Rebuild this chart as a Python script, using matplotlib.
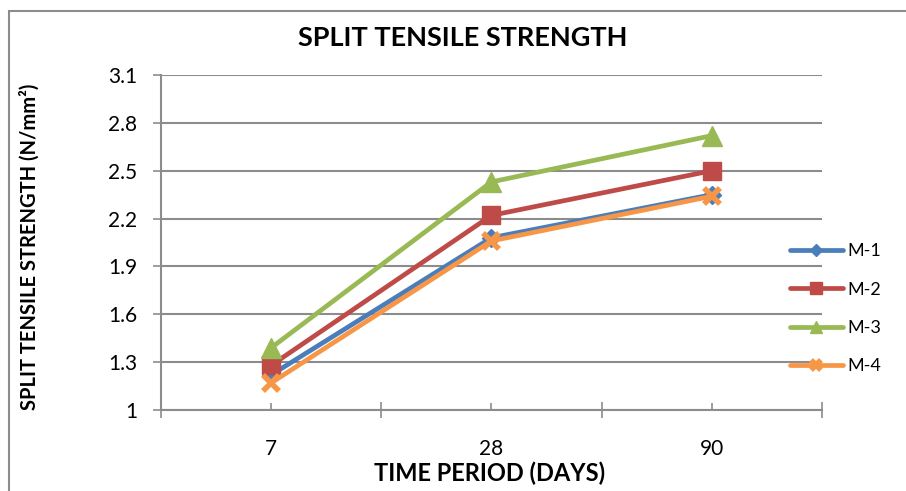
import matplotlib
matplotlib.use("Agg")
import matplotlib.pyplot as plt
from matplotlib.patches import Rectangle

plt.rcParams['font.family'] = ['Lato', 'DejaVu Sans']

categories = ['7', '28', '90']
series_names = ['M-1', 'M-2', 'M-3', 'M-4']
m1 = [1.22, 2.08, 2.35]
m2 = [1.28, 2.22, 2.50]
m3 = [1.39, 2.43, 2.72]
m4 = [1.17, 2.06, 2.34]
y_ticks = [1, 1.3, 1.6, 1.9, 2.2, 2.5, 2.8, 3.1]
y_tick_labels = ['1', '1.3', '1.6', '1.9', '2.2', '2.5', '2.8', '3.1']

colors = ['#4A7EBB', '#BE4B48', '#98B954', '#F79646']
markers = ['D', 's', '^', 'x']
msizes = [9, 13, 14, 12]

W, H = 906, 491
fig = plt.figure(figsize=(W / 100, H / 100), dpi=100)
ax = fig.add_axes([161 / W, 1 - 410 / H, (822 - 161) / W, (410 - 75) / H])

x = list(range(len(categories)))
for vals, name, c, mk, ms in zip([m1, m2, m3, m4], series_names, colors, markers, msizes):
    ax.plot(x, vals, color=c, lw=3.4, marker=mk, ms=ms, mfc=c, mec=c,
            mew=4 if mk == 'x' else 1, label=name, solid_capstyle='round',
            clip_on=False)

ax.set_xlim(-0.5, 2.5)
ax.set_ylim(1, 3.1)
ax.set_yticks(y_ticks)
ax.set_yticklabels(y_tick_labels)
ax.yaxis.grid(True, color='#8C8C8C', lw=1.5)
ax.set_axisbelow(True)

ax.set_xticks(x)
ax.set_xticklabels(categories)
ax.set_xticks([-0.5, 0.5, 1.5, 2.5], minor=True)
ax.tick_params(axis='x', which='major', direction='in', length=5, width=1.2,
               color='#8C8C8C', pad=21, labelsize=15)
ax.tick_params(axis='x', which='minor', direction='inout', length=11, width=1.2,
               color='#8C8C8C')
ax.tick_params(axis='y', direction='out', length=6, width=1.2, color='#8C8C8C',
               pad=11, labelsize=15)

for s in ['top', 'right']:
    ax.spines[s].set_visible(False)
for s in ['left', 'bottom']:
    ax.spines[s].set_color('#8C8C8C')
    ax.spines[s].set_linewidth(1.5)

fig.text(463 / W, 1 - 38 / H, 'SPLIT TENSILE STRENGTH', ha='center', va='center',
         fontsize=19.5, fontweight='bold')
fig.text(490 / W, 1 - 473 / H, 'TIME PERIOD (DAYS)', ha='center', va='center',
         fontsize=17, fontweight='bold')
fig.text(30 / W, 1 - 247 / H, 'SPLIT TENSILE STRENGTH (N/mm²)', ha='center',
         va='center', rotation=90, fontsize=14.5, fontweight='bold')

leg = fig.legend(loc='upper left', bbox_to_anchor=(783 / W, 1 - 236 / H),
                 frameon=False, fontsize=13, handlelength=2.9, handletextpad=0.25,
                 labelspacing=1.24, markerscale=0.65, borderaxespad=0)

fig.patches.append(Rectangle((9 / W, -0.1), 1.2, 1 - 11 / H + 0.1,
                             transform=fig.transFigure, fill=False,
                             edgecolor='#8C8C8C', lw=1.5))

fig.savefig('out.png', dpi=100)
